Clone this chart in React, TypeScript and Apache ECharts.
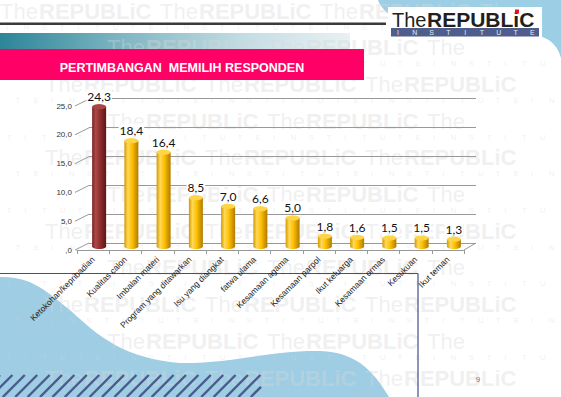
import React, { useEffect, useRef } from "react";
import * as echarts from "echarts";

// ---------- data ----------
const categories = [
  "Ketokohan/kepribadian",
  "Kualitas calon",
  "Imbalan materi",
  "Program yang ditawarkan",
  "Isu yang diangkat",
  "fatwa ulama",
  "Kesamaan agama",
  "Kesamaan parpol",
  "Ikut keluarga",
  "Kesamaan ormas",
  "Kesukuan",
  "Ikut teman",
];
const values = [24.3, 18.4, 16.4, 8.5, 7.0, 6.6, 5.0, 1.8, 1.6, 1.5, 1.5, 1.3];
const yTicks = [0, 5, 10, 15, 20, 25];
const titleText = "PERTIMBANGAN  MEMILIH RESPONDEN";
const logoThe = "The";
const logoRepublic = "REPUBLiC";
const logoInstitute = ["I", "N", "S", "T", "I", "T", "U", "T", "E"];
const pageNumber = "9";

// ---------- helpers ----------
const fmtAxis = (v: number) => (v === 0 ? ",0" : v.toFixed(1).replace(".", ","));
const fmtVal = (v: number) => v.toFixed(1).replace(".", ",");

echarts.graphic.registerShape(
  "wave",
  echarts.graphic.extendPath(
    "M0,277 C30,276 45,290 70,310 C100,338 125,358 180,363 C230,364 270,350 320,351 C360,352 376,376 389,397 L0,397 Z",
    {}
  )
);
echarts.graphic.registerShape(
  "topblob",
  echarts.graphic.extendPath(
    "M378,0 C385,20 420,38 540,36 C552,40 558,47 561,58 L561,0 Z",
    {}
  )
);

const FRONT = { left: 77, top: 106, width: 387, height: 144 };
const BACK = { left: 89, top: 98, width: 387, height: 145 };
const BARS = { left: 83, top: 102.5, width: 387, height: 144 };

const gold = new echarts.graphic.LinearGradient(0, 0, 1, 0, [
  { offset: 0, color: "#d29800" },
  { offset: 0.25, color: "#ffd958" },
  { offset: 0.55, color: "#ffc000" },
  { offset: 1, color: "#b07b00" },
]);
const red = new echarts.graphic.LinearGradient(0, 0, 1, 0, [
  { offset: 0, color: "#7a2222" },
  { offset: 0.25, color: "#ad4848" },
  { offset: 0.6, color: "#8c2c2c" },
  { offset: 1, color: "#5c1616" },
]);

const WM = "rgba(215,215,215,0.38)";

function buildGraphics() {
  const g: any[] = [];
  // blue shapes
  g.push({ type: "topblob", x: 0, y: 0, z: -20, style: { fill: "#9ccfe5" } });
  g.push({ type: "wave", x: 0, y: 0, z: -20, style: { fill: "#9ecde4" } });
  // teal gradient band
  g.push({
    type: "rect",
    z: -19,
    shape: { x: 0, y: 33, width: 350, height: 16 },
    style: {
      fill: new echarts.graphic.LinearGradient(0, 0, 1, 0, [
        { offset: 0, color: "#2c8598" },
        { offset: 0.35, color: "#7fb6c3" },
        { offset: 0.7, color: "#c4dde4" },
        { offset: 1, color: "#e8f1f3" },
      ]),
    },
  });
  // faint watermark (pieces that fit inside the page)
  const pitch = 36.7;
  for (let k = 0; k < 11; k++) {
    const top = 3 + pitch * k;
    const off = k === 0 ? 0 : k % 2 === 0 ? 45 - 160 : 107 - 160;
    for (let j = 0; j < 6; j++) {
      const x = off + 160 * j;
      if (x >= 0 && x + 38 <= 561) {
        g.push({
          type: "text",
          z: -15,
          x,
          y: top - 3,
          style: { text: "The", fill: WM, font: "22px 'Liberation Sans'", verticalAlign: "top" },
        });
      }
      if (x + 39 >= 0 && x + 39 + 113 <= 561) {
        g.push({
          type: "text",
          z: -15,
          x: x + 39,
          y: top - 3,
          style: { text: "REPUBLiC", fill: WM, font: "bold 22px 'Liberation Sans'", verticalAlign: "top" },
        });
      }
      logoInstitute.forEach((ch, i) => {
        const lx = x + 6 + i * 17.8;
        if (lx >= 0 && lx <= 553 && top + 30 <= 397) {
          g.push({
            type: "text",
            z: -15,
            x: lx,
            y: top + 20,
            style: { text: ch, fill: WM, font: "8px 'Liberation Sans'", verticalAlign: "top" },
          });
        }
      });
    }
  }
  // header dark line
  g.push({ type: "rect", z: -5, shape: { x: 0, y: 22.5, width: 386, height: 2.5 }, style: { fill: "#3a3a3a" } });
  // logo
  g.push({ type: "rect", z: -5, shape: { x: 388, y: 7, width: 154, height: 31 }, style: { fill: "#ffffff" } });
  g.push({
    type: "text",
    z: -4,
    x: 392,
    y: 29.5,
    style: { text: logoThe, fill: "#231f20", font: "20px 'Liberation Sans'", verticalAlign: "bottom" },
  });
  g.push({
    type: "text",
    z: -4,
    x: 427,
    y: 29.5,
    style: { text: logoRepublic, fill: "#231f20", font: "900 21px 'Liberation Sans'", verticalAlign: "bottom" },
  });
  g.push({ type: "rect", z: -3, shape: { x: 515, y: 9.5, width: 4, height: 4 }, style: { fill: "#e0141e" } });
  g.push({ type: "rect", z: -4, shape: { x: 391, y: 28, width: 148, height: 8.5 }, style: { fill: "#4e5d8c" } });
  logoInstitute.forEach((ch, i) => {
    g.push({
      type: "text",
      z: -3,
      x: 398 + i * 16.8,
      y: 32.5,
      style: { text: ch, fill: "#e9ebf3", font: "7px 'Liberation Sans'", align: "center", verticalAlign: "middle" },
    });
  });
  // pink title bar
  g.push({ type: "rect", z: -5, shape: { x: 0, y: 49, width: 364, height: 31 }, style: { fill: "#ff0066" } });
  g.push({
    type: "text",
    z: -4,
    x: 182,
    y: 68,
    style: {
      text: titleText,
      fill: "#ffffff",
      font: "bold 12.5px 'Liberation Sans'",
      align: "center",
      verticalAlign: "middle",
    },
  });
  // blue frame lines
  g.push({ type: "line", z: -5, shape: { x1: 0, y1: 273.5, x2: 418, y2: 273.5 }, style: { stroke: "#3d4f8c", lineWidth: 1.2 } });
  g.push({ type: "line", z: -5, shape: { x1: 418, y1: 273.5, x2: 418, y2: 397 }, style: { stroke: "#3d4f8c", lineWidth: 1.2 } });
  // hatching
  for (let x = -22; x < 262; x += 12.4) {
    let x2 = x + 22;
    let y2 = 375;
    if (x2 > 261) {
      const t = (261 - x) / 22;
      x2 = 261;
      y2 = 397 - 22 * t;
    }
    g.push({ type: "line", z: -5, shape: { x1: x, y1: 397, x2, y2 }, style: { stroke: "#4a5a8c", lineWidth: 2.4 } });
  }
  // page number
  g.push({
    type: "text",
    z: -5,
    x: 478,
    y: 379,
    style: { text: pageNumber, fill: "#777", font: "8px 'Liberation Sans'", align: "center", verticalAlign: "middle" },
  });
  // 3D wall diagonals
  const scale = FRONT.height / 25;
  yTicks.forEach((t) => {
    const y = FRONT.top + FRONT.height - t * scale;
    g.push({ type: "line", z: 0, shape: { x1: FRONT.left - 2, y1: y, x2: BACK.left, y2: y - 7 }, style: { stroke: "#999", lineWidth: 1 } });
  });
  g.push({
    type: "line",
    z: 0,
    shape: { x1: FRONT.left + FRONT.width, y1: FRONT.top + FRONT.height, x2: BACK.left + BACK.width, y2: BACK.top + BACK.height },
    style: { stroke: "#999", lineWidth: 1 },
  });
  return g;
}

export default function App() {
  const ref = useRef<HTMLDivElement>(null);
  useEffect(() => {
    document.body.style.margin = "0";
    const chart = echarts.init(ref.current!, null, { renderer: "svg" });
    const option: any = {
      animation: false,
      backgroundColor: "#ffffff",
      grid: [{ ...FRONT }, { ...BACK }, { ...BARS }],
      xAxis: [
        {
          gridIndex: 0,
          type: "category",
          data: categories,
          axisLine: { lineStyle: { color: "#999", width: 1 } },
          axisTick: { show: true, length: 4, lineStyle: { color: "#999" } },
          axisLabel: {
            rotate: 45,
            fontSize: 8.5,
            fontFamily: "Liberation Sans",
            color: "#1a1a1a",
            margin: 8,
            interval: 0,
          },
        },
        { gridIndex: 1, type: "category", data: categories, show: false },
        { gridIndex: 2, type: "category", data: categories, show: false },
      ],
      yAxis: [
        {
          gridIndex: 0,
          type: "value",
          min: 0,
          max: 25,
          interval: 5,
          axisLine: { show: false },
          axisTick: { show: false },
          splitLine: { show: false },
          axisLabel: {
            formatter: fmtAxis,
            fontSize: 8,
            fontFamily: "Liberation Sans",
            color: "#333",
            margin: 5,
          },
        },
        {
          gridIndex: 1,
          type: "value",
          min: 0,
          max: 25,
          interval: 5,
          axisLine: { show: false },
          axisTick: { show: false },
          axisLabel: { show: false },
          splitLine: { show: true, lineStyle: { color: "#999", width: 1 } },
        },
        { gridIndex: 2, type: "value", min: 0, max: 25, show: false, splitLine: { show: false } },
      ],
      series: [
        {
          type: "bar",
          xAxisIndex: 2,
          yAxisIndex: 2,
          barWidth: 14,
          z: 3,
          data: values.map((v, i) => ({ value: v, itemStyle: { color: i === 0 ? red : gold } })),
          label: {
            show: true,
            position: "top",
            distance: 4,
            formatter: (p: any) => fmtVal(p.value),
            fontSize: 12,
            fontFamily: "Lato",
            color: "#111",
            backgroundColor: "#ffffff",
            padding: [1, 1, 0, 1],
          },
        },
        {
          type: "pictorialBar",
          xAxisIndex: 2,
          yAxisIndex: 2,
          symbol: "circle",
          symbolSize: [14, 5],
          symbolPosition: "start",
          symbolOffset: [0, "50%"],
          z: 2,
          data: values.map((v, i) => ({ value: v, itemStyle: { color: i === 0 ? red : gold } })),
        },
        {
          type: "pictorialBar",
          xAxisIndex: 2,
          yAxisIndex: 2,
          symbol: "circle",
          symbolSize: [14, 5],
          symbolPosition: "end",
          symbolOffset: [0, "-50%"],
          z: 4,
          data: values.map((v, i) => ({
            value: v,
            itemStyle: {
              color: i === 0 ? "#a84545" : "#ffd548",
              borderColor: i === 0 ? "#7a2424" : "#d9a200",
              borderWidth: 0.6,
            },
          })),
        },
      ],
      graphic: buildGraphics(),
    };
    chart.setOption(option);
    return () => chart.dispose();
  }, []);
  return <div ref={ref} style={{ width: 561, height: 397 }} />;
}
